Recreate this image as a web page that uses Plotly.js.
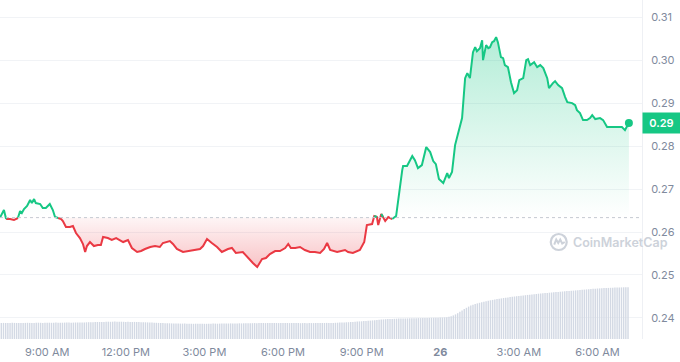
<!DOCTYPE html>
<html>
<head>
<meta charset="utf-8">
<script src="https://cdn.plot.ly/plotly-3.0.1.min.js"></script>
<style>html,body{margin:0;padding:0;background:#fff;}#chart{width:680px;height:362px;}</style>
</head>
<body>
<div id="chart"></div>
<script>
// ---- price series (time, USD) ----
const priceTime = [
'25 07:12','25 07:21','25 07:26','25 07:35','25 07:44','25 07:53','25 07:58','25 08:02','25 08:07','25 08:14',
'25 08:21','25 08:25','25 08:30','25 08:34','25 08:44','25 08:50','25 08:57','25 09:06','25 09:13','25 09:18',
'25 09:25','25 09:32','25 09:36','25 09:43','25 09:52','25 09:59','25 10:06','25 10:15','25 10:22','25 10:27',
'25 10:31','25 10:38','25 10:47','25 10:56','25 11:03','25 11:08','25 11:19','25 11:28','25 11:38','25 11:47',
'25 11:54','25 12:05','25 12:14','25 12:26','25 12:35','25 12:44','25 12:56','25 13:07','25 13:18','25 13:25',
'25 13:34','25 13:41','25 13:48','25 13:57','25 14:11','25 14:27','25 14:39','25 14:50','25 14:57','25 15:06',
'25 15:17','25 15:29','25 15:40','25 15:54','25 16:03','25 16:12','25 16:28','25 16:40','25 16:51','25 17:01',
'25 17:12','25 17:21','25 17:30','25 17:42','25 17:53','25 18:05','25 18:12','25 18:18','25 18:28','25 18:39',
'25 18:50','25 19:02','25 19:13','25 19:25','25 19:34','25 19:41','25 19:48','25 20:04','25 20:22','25 20:29',
'25 20:40','25 20:56','25 21:06','25 21:12','25 21:24','25 21:29','25 21:35','25 21:38','25 21:45','25 21:49',
'25 21:54','25 22:01','25 22:10','25 22:19','25 22:33','25 22:35','25 22:44','25 22:56','25 23:02','25 23:09',
'25 23:18','25 23:28','25 23:37','25 23:44','25 23:50','25 23:57','26 00:07','26 00:16','26 00:20','26 00:27',
'26 00:34','26 00:41','26 00:50','26 00:57','26 01:02','26 01:08','26 01:15','26 01:20','26 01:24','26 01:31',
'26 01:36','26 01:38','26 01:45','26 01:50','26 01:54','26 01:59','26 02:03','26 02:08','26 02:12','26 02:19',
'26 02:24','26 02:28','26 02:35','26 02:42','26 02:49','26 02:56','26 03:01','26 03:10','26 03:17','26 03:21',
'26 03:26','26 03:35','26 03:42','26 03:49','26 03:56','26 04:05','26 04:09','26 04:18','26 04:23','26 04:30',
'26 04:39','26 04:46','26 04:51','26 05:02','26 05:09','26 05:13','26 05:20','26 05:27','26 05:36','26 05:43',
'26 05:48','26 05:55','26 06:06','26 06:13','26 06:22','26 06:34','26 06:45','26 06:56','26 07:03','26 07:08',
'26 07:12'
];
const priceUSD = [
0.26335,0.26512,0.26302,0.26302,0.26279,0.26326,0.26488,0.26442,0.26535,0.26605,
0.26744,0.26674,0.26767,0.26674,0.26651,0.26558,0.26558,0.26651,0.26512,0.26349,
0.26326,0.26302,0.26256,0.26116,0.26116,0.26140,0.25977,0.25860,0.25721,0.25535,
0.25674,0.25767,0.25674,0.25698,0.25698,0.25884,0.25860,0.25814,0.25860,0.25814,
0.25767,0.25814,0.25628,0.25535,0.25558,0.25605,0.25651,0.25674,0.25651,0.25744,
0.25767,0.25791,0.25721,0.25605,0.25535,0.25558,0.25581,0.25605,0.25674,0.25837,
0.25744,0.25651,0.25535,0.25605,0.25628,0.25512,0.25535,0.25395,0.25279,0.25186,
0.25372,0.25395,0.25488,0.25558,0.25558,0.25628,0.25721,0.25628,0.25628,0.25651,
0.25581,0.25535,0.25535,0.25512,0.25605,0.25744,0.25581,0.25535,0.25581,0.25535,
0.25512,0.25581,0.25767,0.26163,0.26186,0.26372,0.26349,0.26163,0.26419,0.26349,
0.26256,0.26349,0.26302,0.26372,0.27442,0.27535,0.27535,0.27767,0.27674,0.27488,
0.27558,0.27977,0.27860,0.27651,0.27581,0.27233,0.27140,0.27372,0.27256,0.27395,
0.28023,0.28326,0.28651,0.29581,0.29698,0.29581,0.30186,0.30302,0.30209,0.30279,
0.30465,0.30000,0.30349,0.30279,0.30302,0.30419,0.30442,0.30535,0.30419,0.30070,
0.30047,0.29884,0.29837,0.29488,0.29233,0.29302,0.29535,0.29581,0.30000,0.30023,
0.29884,0.29953,0.29837,0.29884,0.29814,0.29581,0.29349,0.29465,0.29512,0.29419,
0.29349,0.29140,0.29023,0.29000,0.28953,0.28837,0.28767,0.28605,0.28605,0.28651,
0.28721,0.28628,0.28651,0.28605,0.28442,0.28442,0.28442,0.28442,0.28372,0.28465,
0.28535
];
// ---- 24h volume, one bar per 5 minutes from 25 07:15 (relative units) ----
const volume = [
16.0,16.1,16.0,15.9,16.0,16.2,16.1,16.0,15.9,16.0,16.1,16.1,
16.2,16.1,16.0,16.1,16.2,16.3,16.2,16.1,16.2,16.3,16.3,16.2,
16.3,16.4,16.3,16.2,16.3,16.4,16.5,16.4,16.3,16.4,16.5,16.5,
16.6,16.5,16.6,16.7,16.8,16.7,16.8,16.9,17.0,17.0,17.1,17.0,
17.2,17.3,17.2,17.3,17.4,17.3,17.2,17.3,17.2,17.1,17.2,17.1,
17.0,17.1,17.0,16.9,16.8,16.8,16.7,16.6,16.5,16.4,16.3,16.2,
16.1,16.0,15.9,15.8,15.8,15.7,15.6,15.6,15.5,15.5,15.4,15.4,
15.4,15.3,15.3,15.3,15.2,15.3,15.2,15.2,15.3,15.2,15.2,15.3,
15.3,15.4,15.4,15.3,15.4,15.5,15.4,15.5,15.5,15.6,15.5,15.6,
15.6,15.7,15.6,15.7,15.8,15.7,15.8,15.8,15.9,15.8,15.9,15.9,
16.0,15.9,16.0,16.0,15.9,16.0,16.0,15.9,16.0,15.9,15.9,16.0,
15.9,15.9,16.0,15.9,15.9,15.8,15.9,15.9,15.8,15.9,15.9,15.9,
15.9,16.0,15.9,16.0,16.0,16.1,16.0,16.1,16.1,16.2,16.3,16.4,
16.5,16.6,16.7,16.8,17.0,17.1,17.3,17.4,17.6,17.7,17.9,18.1,
18.3,18.4,18.6,18.8,19.0,19.2,19.4,19.6,19.8,20.0,19.9,20.1,
20.2,20.3,20.4,20.5,20.5,20.6,20.6,20.7,20.7,20.8,20.8,20.9,
20.9,21.0,21.0,21.1,21.1,21.2,21.2,21.3,21.3,21.4,21.5,21.6,
21.8,22.2,22.8,23.6,24.6,25.8,27.2,28.6,30.0,31.2,32.4,33.4,
34.2,35.0,35.6,36.2,36.8,37.3,37.8,38.2,38.7,39.1,39.5,39.9,
40.3,40.6,41.0,41.3,41.6,41.9,42.2,42.5,42.8,43.1,43.3,43.6,
43.8,44.1,44.3,44.6,44.8,45.0,45.3,45.5,45.7,45.9,46.1,46.3,
46.5,46.7,46.9,47.1,47.3,47.5,47.7,47.9,48.1,48.2,48.4,48.6,
48.8,49.0,49.2,49.4,49.6,49.8,50.0,50.2,50.3,50.5,50.6,50.8,
50.9,51.0,51.1,51.2,51.3,51.4,51.5,51.6,51.6,51.7,51.7,51.8
];
const xTickVals = ['2024-05-25 09:00','2024-05-25 12:00','2024-05-25 15:00','2024-05-25 18:00','2024-05-25 21:00','2024-05-26 00:00','2024-05-26 03:00','2024-05-26 06:00'];
const xTickText = ['9:00 AM','12:00 PM','3:00 PM','6:00 PM','9:00 PM','<b>26</b>','3:00 AM','6:00 AM'];
const yTickVals = [0.24,0.25,0.26,0.27,0.28,0.29,0.30,0.31];

// ---- build traces ----
const GREEN = '#16c784', RED = '#ea3943';
const x = priceTime.map(t => '2024-05-' + t);
const base = priceUSD[0];
const n = priceUSD.length;
const maxP = Math.max(...priceUSD), minP = Math.min(...priceUSD);

const segGreen = [];
for (let i = 0; i < n - 1; i++) segGreen.push((priceUSD[i] + priceUSD[i+1]) / 2 >= base);
const gY = priceUSD.map((v,i) => ((i>0 && segGreen[i-1]) || (i<n-1 && segGreen[i])) ? v : null);
const rY = priceUSD.map((v,i) => ((i>0 && !segGreen[i-1]) || (i<n-1 && !segGreen[i])) ? v : null);

const volStart = Date.UTC(2024,4,25,7,15);
const volX = volume.map((v,i) => volStart + i*300000);

const baseLine = priceUSD.map(() => base);
const traces = [
  {x:x, y:baseLine, mode:'lines', line:{width:0}, hoverinfo:'skip'},
  {x:x, y:priceUSD.map(v => Math.max(v, base)), mode:'lines', line:{width:0}, fill:'tonexty',
   fillgradient:{type:'vertical', start:base, stop:maxP,
     colorscale:[[0,'rgba(22,199,132,0.0)'],[1,'rgba(22,199,132,0.32)']]}, hoverinfo:'skip'},
  {x:x, y:baseLine, mode:'lines', line:{width:0}, hoverinfo:'skip'},
  {x:x, y:priceUSD.map(v => Math.min(v, base)), mode:'lines', line:{width:0}, fill:'tonexty',
   fillgradient:{type:'vertical', start:minP, stop:base,
     colorscale:[[0,'rgba(234,57,67,0.30)'],[1,'rgba(234,57,67,0.05)']]}, hoverinfo:'skip'},
  {x:x, y:rY, mode:'lines', line:{color:RED, width:2}, connectgaps:false},
  {x:x, y:gY, mode:'lines', line:{color:GREEN, width:2}, connectgaps:false},
  {x:[x[n-1]], y:[priceUSD[n-1]], mode:'markers', marker:{color:GREEN, size:8}},
  {x:volX, y:volume, type:'bar', yaxis:'y2', width:195000, marker:{color:'#d3d9e4', line:{width:0}}}
];

const layout = {
  width:680, height:362,
  margin:{l:0, r:38, t:0, b:23},
  paper_bgcolor:'#ffffff', plot_bgcolor:'#ffffff',
  showlegend:false, hovermode:false,
  font:{family:'Inter, "Noto Sans", sans-serif', size:11, color:'#808a9d'},
  xaxis:{type:'date', range:['2024-05-25 07:12','2024-05-26 07:42'],
    tickmode:'array', tickvals:xTickVals, ticktext:xTickText,
    showgrid:false, zeroline:false, showline:false,
    ticks:'outside', ticklen:3, tickcolor:'rgba(0,0,0,0)',
    tickfont:{size:11, color:'#808a9d'}},
  yaxis:{side:'right', range:[0.2351, 0.3140], tickmode:'array', tickvals:yTickVals,
    tickformat:'.2f', showgrid:true, gridcolor:'#f1f3f6', gridwidth:1,
    zeroline:false, showline:true, linecolor:'#eef0f4', linewidth:1,
    ticks:'outside', ticklen:6, tickcolor:'rgba(0,0,0,0)',
    tickfont:{size:11, color:'#808a9d'}},
  yaxis2:{overlaying:'y', range:[0, 339], visible:false, fixedrange:true},
  shapes:[
    {type:'line', xref:'paper', x0:0, x1:1, yref:'y', y0:base, y1:base,
     line:{color:'#c5c9d1', width:1, dash:'dot'}, layer:'above'},
    {type:'circle', xref:'paper', yref:'paper', xsizemode:'pixel', ysizemode:'pixel',
     xanchor:0.8703, yanchor:0.2861, x0:-8, x1:8, y0:-8, y1:8,
     line:{color:'#cdd2da', width:2.2}, layer:'above'},
    {type:'path', xref:'paper', yref:'paper', xsizemode:'pixel', ysizemode:'pixel',
     xanchor:0.8703, yanchor:0.2861,
     path:'M -4.5 -2.5 L -2.5 2.5 L -0.5 -1 L 1.5 2.5 L 3.5 -1.5 L 6 0',
     line:{color:'#cdd2da', width:2}, layer:'above'}
  ],
  annotations:[
    {text:'CoinMarketCap', xref:'paper', yref:'paper', x:0.8894, y:0.2861,
     xanchor:'left', yanchor:'middle', showarrow:false,
     font:{family:'Inter, sans-serif', size:12.5, color:'#cdd2da', weight:600}},
    {text:priceUSD[n-1].toFixed(2), xref:'paper', yref:'y', x:1, y:priceUSD[n-1],
     xanchor:'left', yanchor:'middle', showarrow:false, bgcolor:GREEN,
     borderpad:3, width:31, height:14, align:'center',
     font:{family:'Inter, sans-serif', size:11, color:'#ffffff', weight:600}}
  ]
};

Plotly.newPlot('chart', traces, layout, {displayModeBar:false, staticPlot:true});
</script>
</body>
</html>
